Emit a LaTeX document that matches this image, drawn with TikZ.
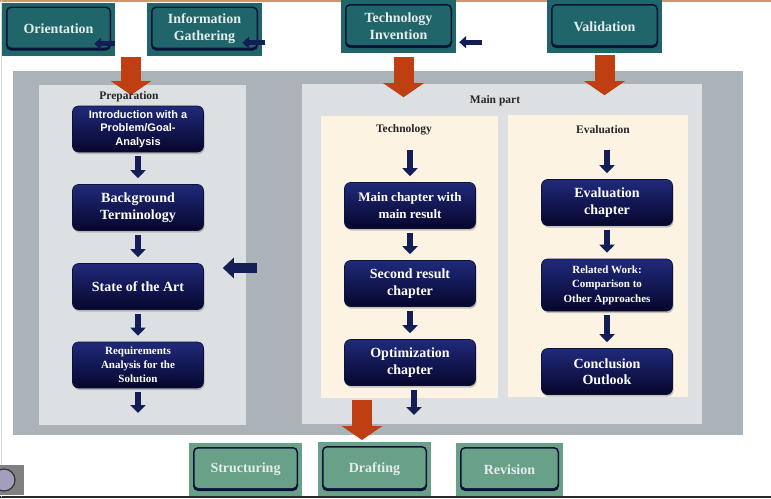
\documentclass[tikz,border=0pt]{standalone}
\usepackage{fontspec}
\setmainfont{Liberation Serif}
\setsansfont{Liberation Sans}
\usepackage{tikz}
\usetikzlibrary{arrows.meta,positioning,shadows}
\definecolor{phaseteal}{RGB}{32,101,106}
\definecolor{phasegreen}{RGB}{104,160,136}
\definecolor{phasetext}{RGB}{228,236,236}
\definecolor{framegray}{RGB}{171,178,184}
\definecolor{panelgray}{RGB}{221,224,227}
\definecolor{cream}{RGB}{253,243,227}
\definecolor{rust}{RGB}{191,62,18}
\definecolor{navyarrow}{RGB}{18,30,85}
\definecolor{navytop}{RGB}{32,42,122}
\definecolor{navybot}{RGB}{6,6,44}
\definecolor{navyline}{RGB}{10,18,55}
\definecolor{topline}{RGB}{205,150,110}

\tikzset{
  phase/.style={fill=#1, inner sep=0pt, minimum width=113pt, minimum height=53pt,
    align=center, text=phasetext, font=\bfseries\fontsize{14}{17}\selectfont,
    path picture={
      \fill[navyline, rounded corners=5pt]
        ([shift={(4pt,-4pt)}]path picture bounding box.north west) rectangle
        ([shift={(-4pt,5pt)}]path picture bounding box.south east);
      \fill[#1, rounded corners=4pt]
        ([shift={(5.5pt,-5.5pt)}]path picture bounding box.north west) rectangle
        ([shift={(-5.5pt,8pt)}]path picture bounding box.south east);
    }},
  chapter/.style={rounded corners=6pt, top color=navytop, bottom color=navybot,
    draw=navyline, line width=0.6pt, minimum width=131pt, minimum height=46pt,
    inner sep=2pt, text=white, align=center, font=\bfseries\fontsize{14}{16.5}\selectfont,
    drop shadow={shadow xshift=1pt, shadow yshift=-2pt, opacity=0.45}},
  partlabel/.style={font=\bfseries\fontsize{11.5}{13}\selectfont, text=black!85},
  darrow/.style={-{Triangle[width=15pt,length=8pt]}, line width=6.5pt, draw=navyarrow,
    shorten <=4pt, shorten >=6pt},
  sarrow/.style={-{Triangle[width=12pt,length=7pt]}, line width=5pt, draw=navyarrow},
  larrow/.style={-{Triangle[width=20pt,length=11pt]}, line width=10pt, draw=navyarrow},
  oarrow/.style={-{Triangle[width=40pt,length=14pt]}, line width=20pt, draw=rust}
}

\begin{document}
\begin{tikzpicture}[x=1pt, y=-1pt]
    \useasboundingbox (0,0) rectangle (771,498);
    \fill[white] (0,0) rectangle (771,498);

    % Frame lines
    \draw[topline, line width=1.5pt] (0,1) -- (771,1);
    \draw[black!85, line width=2pt] (0,497) -- (771,497);
    \draw[black!15, line width=1pt] (1,0) -- (1,497);

    % Background panels
    \fill[framegray] (13,71) rectangle (743,435);
    \fill[panelgray] (39,85) rectangle (246,425);
    \fill[panelgray] (302,84) rectangle (702,424);
    \fill[cream] (321,116) rectangle (498,398);
    \fill[cream] (508,115) rectangle (688,397);

    % Writing phases
    \node[phase=phaseteal] (orient) at (58.5,29) {Orientation};
    \node[phase=phaseteal, minimum width=115pt] (info) at (204.5,29) {Information\\Gathering};
    \node[phase=phaseteal, minimum width=115pt] (techinv) at (398.5,26.5) {Technology\\Invention};
    \node[phase=phaseteal, minimum width=115pt] (valid) at (604.5,26.5) {Validation};
    \node[phase=phasegreen] (struct) at (245.5,469.5) {Structuring};
    \node[phase=phasegreen, minimum height=54pt] (draft) at (374.5,469) {Drafting};
    \node[phase=phasegreen, minimum width=107pt] (revis) at (509.5,469.5) {Revision};

    % Small arrows in the phases
    \draw[sarrow] ([yshift=12pt]orient.south east) -- ++(-21,0);
    \draw[sarrow] ([shift={(3pt,13pt)}]info.south east) -- ++(-23,0);
    \draw[sarrow] ([shift={(26pt,11pt)}]techinv.south east) -- ++(-23,0);

    % Phase arrows
    \coordinate (prepin) at (131,57);
    \coordinate (draftin) at (362,400);
    \draw[oarrow] (prepin) -- ++(0,38);
    \draw[oarrow] ([shift={(5pt,-4pt)}]techinv.south) -- ++(0,40);
    \draw[oarrow] ([yshift=-2pt]valid.south) -- ++(0,40);
    \draw[oarrow] (draftin) -- ++(0,40);

    % Part labels
    \node[partlabel] at (129,97) {Preparation};
    \node[partlabel] at (495,101) {Main part};
    \node[partlabel] at (404,130) {Technology};
    \node[partlabel] at (603,130) {Evaluation};

    % Preparation
    \node[chapter, font=\sffamily\bfseries\fontsize{11}{13.5}\selectfont] (intro) at (138,129)
        {Introduction with a\\Problem/Goal-\\Analysis};
    \node[chapter] (backgr) at (138,207.5) {Background\\Terminology};
    \node[chapter] (sota) at (138,286.5) {State of the Art};
    \node[chapter, font=\bfseries\fontsize{11}{14}\selectfont] (requ) at (138,365)
        {Requirements\\Analysis for the\\Solution};
    \coordinate (prepout) at (138,419);
    \coordinate (sotain) at (257,268);

    % Technology
    \coordinate (techin) at (410,146);
    \node[chapter, font=\bfseries\fontsize{13}{16.5}\selectfont] (mainch) at (410,205.5)
        {Main chapter with\\main result};
    \node[chapter] (second) at (410,283.5) {Second result\\chapter};
    \node[chapter] (optim) at (410,362.5) {Optimization\\chapter};
    \coordinate (techout) at (414,421);

    % Evaluation
    \coordinate (evalin) at (607,146);
    \node[chapter] (evalch) at (607,202.5) {Evaluation\\chapter};
    \node[chapter, minimum height=52pt, font=\bfseries\fontsize{11}{14.5}\selectfont] (related) at (607,285)
        {Related Work:\\Comparison to\\Other Approaches};
    \node[chapter] (concl) at (607,371.5) {Conclusion\\Outlook};

    % Chapter arrows
    \draw[darrow] (intro) -- (backgr);
    \draw[darrow] (backgr) -- (sota);
    \draw[darrow] (sota) -- (requ);
    \draw[darrow] (requ) -- (prepout);
    \draw[larrow, shorten >=19pt] (sotain) -- (sota.east |- sotain);
    \draw[darrow] (techin) -- (mainch);
    \draw[darrow] (mainch) -- (second);
    \draw[darrow] (second) -- (optim);
    \draw[darrow] ([xshift=4pt]optim.south) -- (techout);
    \draw[darrow] (evalin) -- (evalch);
    \draw[darrow] (evalch) -- (related);
    \draw[darrow] (related) -- (concl);

    % Corner badge
    \fill[black!50] (0,465) rectangle (24,495);
    \begin{scope}
        \clip (0,465) rectangle (24,495);
        \draw[fill={rgb,255:red,160;green,160;blue,190}, draw=black!80, line width=1.2pt] (4,480) circle (11);
    \end{scope}
\end{tikzpicture}
\end{document}
